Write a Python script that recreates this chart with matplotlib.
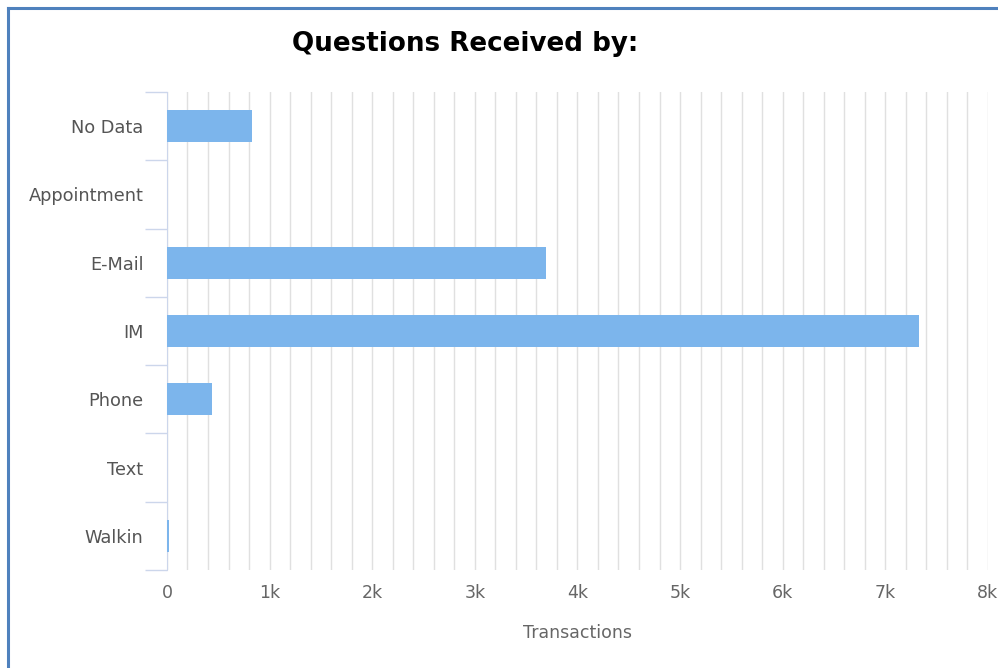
import matplotlib.pyplot as plt
from matplotlib.lines import Line2D

categories = ['No Data', 'Appointment', 'E-Mail', 'IM', 'Phone', 'Text', 'Walkin']
transactions = [828, 0, 3690, 7330, 440, 0, 20]
x_ticks = [0, 1000, 2000, 3000, 4000, 5000, 6000, 7000, 8000]
x_tick_labels = ['0', '1k', '2k', '3k', '4k', '5k', '6k', '7k', '8k']

BAR = '#7cb5ec'
GRID = '#e0e0e0'
AXIS = '#ccd6eb'

fig = plt.figure(figsize=(9.98, 6.68), dpi=100)
ax = fig.add_axes([0.1673, 0.1467, 0.8226, 0.7156])

pos = list(range(len(categories)))
ax.barh(pos, transactions, height=0.47, color=BAR, zorder=3)

ax.set_ylim(len(categories) - 0.5, -0.5)
ax.set_xlim(0, 8000)

# minor grid every 200
ax.set_xticks(x_ticks)
ax.set_xticklabels(x_tick_labels)
ax.set_xticks(range(0, 8001, 200), minor=True)
ax.grid(axis='x', which='both', color=GRID, linewidth=1, zorder=0)
ax.tick_params(axis='x', which='both', length=0, pad=10, labelsize=12.5, labelcolor='#666666')

ax.set_yticks(pos)
ax.set_yticklabels(categories, va='center_baseline')
ax.tick_params(axis='y', which='major', length=0, pad=17, labelsize=12.8, labelcolor='#555555')
ax.set_yticks([p - 0.5 for p in pos] + [len(pos) - 0.5], minor=True)
ax.tick_params(axis='y', which='minor', length=16, color=AXIS, width=1)

for s in ['top', 'right', 'bottom']:
    ax.spines[s].set_visible(False)
ax.spines['left'].set_color(AXIS)

ax.set_xlabel('Transactions', fontsize=12.5, color='#666666', labelpad=16)

fig.text(0.466, 0.934, 'Questions Received by:', ha='center', va='center',
         fontsize=18.8, fontweight='bold', color='black')

# blue frame around the chart
frame = '#4f81bd'
fig.add_artist(Line2D([0.0085, 0.0085], [0, 0.9875], color=frame, lw=2.2, transform=fig.transFigure))
fig.add_artist(Line2D([0.0085, 1], [0.9875, 0.9875], color=frame, lw=2.2, transform=fig.transFigure))

fig.savefig('out.png', dpi=100)
